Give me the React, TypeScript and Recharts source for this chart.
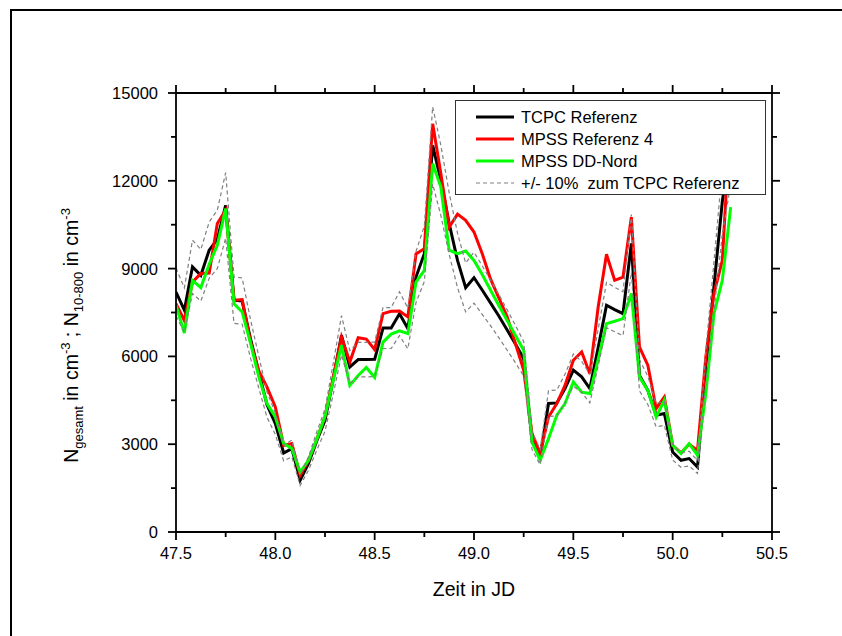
import { LineChart, Line, XAxis, YAxis, Legend } from 'recharts';

// Zeit in JD (stündliche Werte)
const jd = [
  47.5, 47.542, 47.583, 47.625, 47.667, 47.708, 47.75, 47.792, 47.833, 47.875,
  47.917, 47.958, 48.0, 48.042, 48.083, 48.125, 48.167, 48.208, 48.25, 48.292,
  48.333, 48.375, 48.417, 48.458, 48.5, 48.542, 48.583, 48.625, 48.667, 48.708,
  48.75, 48.792, 48.833, 48.875, 48.917, 48.958, 49.0, 49.042, 49.083, 49.125,
  49.167, 49.208, 49.25, 49.292, 49.333, 49.375, 49.417, 49.458, 49.5, 49.542,
  49.583, 49.625, 49.667, 49.708, 49.75, 49.792, 49.833, 49.875, 49.917, 49.958,
  50.0, 50.042, 50.083, 50.125, 50.167, 50.208, 50.25, 50.292,
];

const tcpc = [
  8200, 7580, 9060, 8770, 9630, 10000, 11160, 7920, 7890, 6600,
  5450, 4350, 3700, 2700, 2850, 1770, 2340, 3100, 3820, 5250,
  6720, 5640, 5890, 5890, 5900, 6970, 6970, 7460, 6950, 8710,
  9510, 13210, 12020, 10540, 9280, 8350, 8690, 8260, 7830, 7380,
  6900, 6430, 5920, 3130, 2560, 4390, 4410, 4900, 5530, 5300,
  4900, 6300, 7750, 7600, 7460, 9860, 5350, 4840, 3990, 4050,
  2730, 2450, 2510, 2220, 5640, 8400, 11300, 13200,
];

const mpssRef4 = [
  7800, 7230, 8540, 8830, 8850, 10540, 11000, 7920, 7940, 6500,
  5500, 4950, 4270, 2960, 3020, 1940, 2450, 3150, 3950, 5300,
  6660, 5810, 6640, 6590, 6230, 7460, 7540, 7550, 7350, 9500,
  9680, 13950, 12250, 10420, 10860, 10650, 10250, 9500, 8650, 8000,
  7350, 6450, 5530, 3360, 2680, 3930, 4390, 5010, 5870, 6150,
  5410, 7690, 9490, 8600, 8710, 10760, 6320, 5700, 4220, 4610,
  2960, 2700, 3000, 2790, 5980, 8150, 9280, 14300,
];

const mpssNord = [
  7750, 6800, 8600, 8350, 9150, 9800, 11050, 7800, 7520, 6450,
  5300, 4390, 3930, 3020, 2850, 2050, 2450, 3150, 3950, 5200,
  6380, 5010, 5350, 5620, 5280, 6490, 6760, 6870, 6780, 8540,
  8940, 12590, 11790, 9630, 9510, 9600, 9280, 8790, 8270, 7740,
  7230, 6720, 6210, 3080, 2450, 3190, 3990, 4390, 5130, 4780,
  4730, 5900, 7120, 7200, 7290, 8150, 5300, 4840, 3930, 4500,
  2960, 2680, 3020, 2620, 4730, 7460, 8600, 11100,
];

const upper = [
  9020, 8340, 9970, 9650, 10590, 11000, 12280, 8710, 8680, 7260,
  6000, 4790, 4070, 2970, 3140, 1950, 2570, 3410, 4200, 5780,
  7390, 6200, 6480, 6480, 6490, 7670, 7670, 8210, 7650, 9580,
  10460, 14530, 13220, 11590, 10210, 9190, 9560, 9090, 8610, 8120,
  7590, 7070, 6510, 3440, 2820, 4830, 4850, 5390, 6080, 5830,
  5390, 6930, 8530, 8360, 8210, 10850, 5890, 5320, 4390, 4460,
  3000, 2700, 2760, 2440, 6200, 9240, 12430, 14520,
];

const lower = [
  7380, 6820, 8150, 7890, 8670, 9000, 10040, 7130, 7100, 5940,
  4910, 3920, 3330, 2430, 2570, 1590, 2110, 2790, 3440, 4730,
  6050, 5080, 5300, 5300, 5310, 6270, 6270, 6710, 6260, 7840,
  8560, 11890, 10820, 9490, 8350, 7520, 7820, 7430, 7050, 6640,
  6210, 5790, 5330, 2820, 2300, 3950, 3970, 4410, 4980, 4770,
  4410, 5670, 6980, 6840, 6710, 8870, 4820, 4360, 3590, 3650,
  2460, 2210, 2260, 2000, 5080, 7560, 10170, 11880,
];

const xTicks = [47.5, 47.75, 48.0, 48.25, 48.5, 48.75, 49.0, 49.25, 49.5, 49.75, 50.0, 50.25, 50.5];
const yTicks = [0, 1500, 3000, 4500, 6000, 7500, 9000, 10500, 12000, 13500, 15000];

const legendItems = [
  { name: 'TCPC Referenz', color: '#000000', dash: '', width: 3 },
  { name: 'MPSS Referenz 4', color: '#ff0000', dash: '', width: 3 },
  { name: 'MPSS DD-Nord', color: '#00ff00', dash: '', width: 3 },
  { name: '+/- 10%  zum TCPC Referenz', color: '#808080', dash: '4 3', width: 1.2 },
];

const FONT = '"Liberation Sans", Arial, sans-serif';

const rows = jd.map((x, i) => ({
  x,
  tcpc: tcpc[i],
  ref4: mpssRef4[i],
  nord: mpssNord[i],
  upper: upper[i],
  lower: lower[i],
}));

function XTick(props: any) {
  const { x, y, payload, top } = props;
  const major = Math.abs(payload.value * 2 - Math.round(payload.value * 2)) < 1e-6;
  const len = major ? 8 : 5;
  const dir = top ? -1 : 1;
  return (
    <g>
      <line x1={x} x2={x} y1={y} y2={y + dir * len} stroke="#000" strokeWidth={1.8} />
      {!top && major && (
        <text x={x} y={y + 27} textAnchor="middle" fontSize={16.5} fontFamily={FONT} fill="#000">
          {payload.value.toFixed(1)}
        </text>
      )}
    </g>
  );
}

function YTick(props: any) {
  const { x, y, payload, right } = props;
  const major = payload.value % 3000 === 0;
  const len = major ? 8 : 5;
  const dir = right ? 1 : -1;
  return (
    <g>
      <line x1={x} x2={x + dir * len} y1={y} y2={y} stroke="#000" strokeWidth={1.8} />
      {!right && major && (
        <text x={x - 18} y={y + 6} textAnchor="end" fontSize={16.5} fontFamily={FONT} fill="#000">
          {payload.value}
        </text>
      )}
    </g>
  );
}

function XTitle(props: any) {
  const vb = props.viewBox;
  return (
    <text x={vb.x + vb.width / 2} y={vb.y + 64} textAnchor="middle" fontSize={19.5} fontFamily={FONT} fill="#000">
      Zeit in JD
    </text>
  );
}

function YTitle(props: any) {
  const vb = props.viewBox;
  const cx = vb.x + 32;
  const cy = vb.y + vb.height / 2 + 23;
  return (
    <text x={cx} y={cy} transform={`rotate(-90, ${cx}, ${cy})`} textAnchor="middle" fontSize={19.5} fontFamily={FONT} fill="#000">
      <tspan>N</tspan>
      <tspan fontSize={13} dy={5}>gesamt</tspan>
      <tspan dy={-5}> in cm</tspan>
      <tspan fontSize={13} dy={-8}>-3</tspan>
      <tspan dy={8}> ; N</tspan>
      <tspan fontSize={13} dy={5}>10-800</tspan>
      <tspan dy={-5}> in cm</tspan>
      <tspan fontSize={13} dy={-8}>-3</tspan>
    </text>
  );
}

function LegendBox() {
  return (
    <div
      style={{
        width: 311,
        height: 95,
        boxSizing: 'border-box',
        border: '1.5px solid #333',
        background: '#fff',
        paddingTop: 5,
        fontFamily: FONT,
        fontSize: 16.5,
        color: '#000',
      }}
    >
      {legendItems.map((it) => (
        <div key={it.name} style={{ height: 22, display: 'flex', alignItems: 'center' }}>
          <svg width={65} height={22} style={{ flex: 'none' }}>
            <line x1={20} x2={58} y1={11} y2={11} stroke={it.color} strokeWidth={it.width} strokeDasharray={it.dash} />
          </svg>
          <span style={{ whiteSpace: 'pre' }}>{it.name}</span>
        </div>
      ))}
    </div>
  );
}

export default function App() {
  return (
    <div style={{ position: 'absolute', left: 0, top: 0, width: 842, height: 636, overflow: 'hidden', background: '#fff' }}>
      <div
        style={{
          position: 'absolute',
          left: 10,
          top: 9,
          width: 900,
          height: 700,
          borderLeft: '2px solid #000',
          borderTop: '2px solid #000',
        }}
      />
      <LineChart width={842} height={636} data={rows} margin={{ top: 83, right: 60, bottom: 44, left: 46 }}>
        <XAxis
          dataKey="x"
          type="number"
          domain={[47.5, 50.5]}
          allowDataOverflow
          ticks={xTicks}
          interval={0}
          height={60}
          tickSize={0}
          tickMargin={0}
          axisLine={{ stroke: '#000', strokeWidth: 1.8 }}
          tick={(p: any) => <XTick {...p} />}
          label={{ content: XTitle } as any}
        />
        <XAxis
          xAxisId="top"
          orientation="top"
          dataKey="x"
          type="number"
          domain={[47.5, 50.5]}
          allowDataOverflow
          ticks={xTicks}
          interval={0}
          height={10}
          tickSize={0}
          tickMargin={0}
          axisLine={{ stroke: '#000', strokeWidth: 1.8 }}
          tick={(p: any) => <XTick {...p} top />}
        />
        <YAxis
          type="number"
          domain={[0, 15000]}
          allowDataOverflow
          ticks={yTicks}
          interval={0}
          width={130}
          tickSize={0}
          tickMargin={0}
          axisLine={{ stroke: '#000', strokeWidth: 1.8 }}
          tick={(p: any) => <YTick {...p} />}
          label={{ content: YTitle } as any}
        />
        <YAxis
          yAxisId="right"
          orientation="right"
          type="number"
          domain={[0, 15000]}
          allowDataOverflow
          ticks={yTicks}
          interval={0}
          width={10}
          tickSize={0}
          tickMargin={0}
          axisLine={{ stroke: '#000', strokeWidth: 1.8 }}
          tick={(p: any) => <YTick {...p} right />}
        />
        <Line dataKey="tcpc" stroke="#000000" strokeWidth={3} dot={false} isAnimationActive={false} />
        <Line dataKey="ref4" stroke="#ff0000" strokeWidth={3} dot={false} isAnimationActive={false} />
        <Line dataKey="nord" stroke="#00ff00" strokeWidth={3} dot={false} isAnimationActive={false} />
        <Line dataKey="upper" stroke="#808080" strokeWidth={1.2} strokeDasharray="4 3" dot={false} isAnimationActive={false} />
        <Line dataKey="lower" stroke="#808080" strokeWidth={1.2} strokeDasharray="4 3" dot={false} isAnimationActive={false} />
        <Line
          xAxisId="top"
          yAxisId="right"
          dataKey="tcpc"
          stroke="none"
          dot={false}
          activeDot={false}
          legendType="none"
          isAnimationActive={false}
        />
        <Legend
          layout="horizontal"
          verticalAlign="middle"
          align="center"
          content={() => <LegendBox />}
          wrapperStyle={{ position: 'absolute', left: 455, top: 100, width: 311, height: 95 }}
        />
      </LineChart>
    </div>
  );
}
